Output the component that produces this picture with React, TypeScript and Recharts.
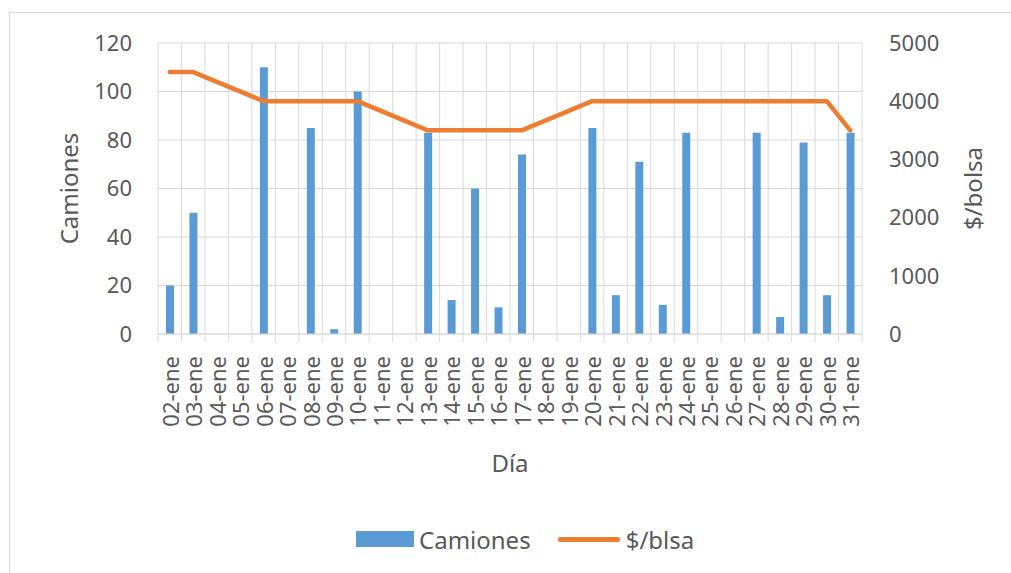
import React from 'react';
import { ComposedChart, Bar, Line, XAxis, YAxis, CartesianGrid, Legend, Label } from 'recharts';

const days = ['02-ene','03-ene','04-ene','05-ene','06-ene','07-ene','08-ene','09-ene','10-ene','11-ene','12-ene','13-ene','14-ene','15-ene','16-ene','17-ene','18-ene','19-ene','20-ene','21-ene','22-ene','23-ene','24-ene','25-ene','26-ene','27-ene','28-ene','29-ene','30-ene','31-ene'];
const camiones = [20, 50, null, null, 110, 0, 85, 2, 100, null, null, 83, 14, 60, 11, 74, null, null, 85, 16, 71, 12, 83, null, null, 83, 7, 79, 16, 83];
const bolsa = [4500, 4500, null, null, 4000, 4000, 4000, 4000, 4000, null, null, 3500, 3500, 3500, 3500, 3500, null, null, 4000, 4000, 4000, 4000, 4000, null, null, 4000, 4000, 4000, 4000, 3500];
const leftTicks = [0, 20, 40, 60, 80, 100, 120];
const rightTicks = [0, 1000, 2000, 3000, 4000, 5000];

const data = days.map((d, i) => ({ day: d, camiones: camiones[i], bolsa: bolsa[i] }));

const W = 1011;
const H = 573;
const LEFT_W = 158;
const RIGHT_W = 149;
const TOP = 43;
const XAXIS_H = 239;
const BAND = (W - LEFT_W - RIGHT_W) / days.length;
const FONT = '"Noto Sans", "Open Sans", sans-serif';
const TEXT = '#595959';
const GRID = '#D9D9D9';
const BLUE = '#5B9BD5';
const ORANGE = '#ED7D31';

const XTick = (props: any) => {
  const { x, y, payload, index } = props;
  const half = BAND / 2;
  const last = index === days.length - 1;
  return (
    <g>
      <line x1={x - half} x2={x - half} y1={y - 8} y2={y} stroke={GRID} strokeWidth={1} />
      {last && <line x1={x + half} x2={x + half} y1={y - 8} y2={y} stroke={GRID} strokeWidth={1} />}
      <text
        transform={`translate(${x},${y + 14}) rotate(-90)`}
        textAnchor="end"
        dominantBaseline="central"
        fill={TEXT}
        fontSize={22}
        fontFamily={FONT}
      >
        {payload.value}
      </text>
    </g>
  );
};

const LegendContent = () => (
  <div style={{ display: 'flex', alignItems: 'center', justifyContent: 'flex-start', paddingLeft: 356, fontFamily: FONT, fontSize: 24, color: TEXT, height: 32 }}>
    <div style={{ width: 58, height: 16, background: BLUE, marginRight: 5 }} />
    <span>Camiones</span>
    <div style={{ width: 62, height: 5, background: ORANGE, borderRadius: 3, marginLeft: 27, marginRight: 6 }} />
    <span>$/blsa</span>
  </div>
);

export default function App() {
  return (
    <div style={{ position: 'fixed', left: 0, top: 0, width: W, height: H, overflow: 'hidden', background: '#fff' }}>
      <div style={{ position: 'absolute', left: 9, top: 12, width: W, height: H, border: `1px solid ${GRID}`, boxSizing: 'border-box' }} />
      <div style={{ position: 'absolute', left: 0, top: 0 }}>
        <ComposedChart width={W} height={H} data={data} margin={{ top: TOP, right: 0, bottom: 0, left: 0 }}>
          <CartesianGrid
            yAxisId="left"
            stroke={GRID}
            strokeWidth={1}
            verticalCoordinatesGenerator={({ offset }: any) =>
              days.map((_, i) => offset.left + (i * offset.width) / days.length).concat([offset.left + offset.width])
            }
          />
          <XAxis
            dataKey="day"
            height={XAXIS_H}
            interval={0}
            tickLine={false}
            tickSize={8}
            tickMargin={0}
            axisLine={{ stroke: GRID }}
            tick={<XTick />}
          >
            <Label
              content={({ viewBox }: any) => (
                <text x={viewBox.x + viewBox.width / 2} y={viewBox.y + 128} textAnchor="middle" dominantBaseline="central" fill={TEXT} fontSize={24} fontFamily={FONT}>
                  Día
                </text>
              )}
            />
          </XAxis>
          <YAxis
            yAxisId="left"
            orientation="left"
            width={LEFT_W}
            domain={[0, 120]}
            ticks={leftTicks}
            interval={0}
            axisLine={false}
            tickLine={false}
            tickSize={0}
            tickMargin={26}
            tick={{ fill: TEXT, fontSize: 22, fontFamily: FONT }}
          >
            <Label
              content={({ viewBox }: any) => (
                <text
                  transform={`translate(68,${viewBox.y + viewBox.height / 2}) rotate(-90)`}
                  textAnchor="middle"
                  dominantBaseline="central"
                  fill={TEXT}
                  fontSize={24}
                  fontFamily={FONT}
                >
                  Camiones
                </text>
              )}
            />
          </YAxis>
          <YAxis
            yAxisId="right"
            orientation="right"
            width={RIGHT_W}
            domain={[0, 5000]}
            ticks={rightTicks}
            interval={0}
            axisLine={false}
            tickLine={false}
            tickSize={0}
            tickMargin={27}
            tick={{ fill: TEXT, fontSize: 22, fontFamily: FONT, textAnchor: 'start' }}
          >
            <Label
              content={({ viewBox }: any) => (
                <text
                  transform={`translate(972,${viewBox.y + viewBox.height / 2}) rotate(-90)`}
                  textAnchor="middle"
                  dominantBaseline="central"
                  fill={TEXT}
                  fontSize={24}
                  fontFamily={FONT}
                >
                  $/bolsa
                </text>
              )}
            />
          </YAxis>
          <Bar yAxisId="left" dataKey="camiones" name="Camiones" fill={BLUE} barSize={8} isAnimationActive={false} />
          <Line
            yAxisId="right"
            dataKey="bolsa"
            name="$/blsa"
            stroke={ORANGE}
            strokeWidth={4.5}
            strokeLinecap="round"
            strokeLinejoin="round"
            dot={false}
            activeDot={false}
            connectNulls
            isAnimationActive={false}
          />
          <Legend
            layout="horizontal"
            verticalAlign="middle"
            align="center"
            content={<LegendContent />}
            wrapperStyle={{ position: 'absolute', top: 523, left: 0, width: W, height: 32 }}
          />
        </ComposedChart>
      </div>
    </div>
  );
}
